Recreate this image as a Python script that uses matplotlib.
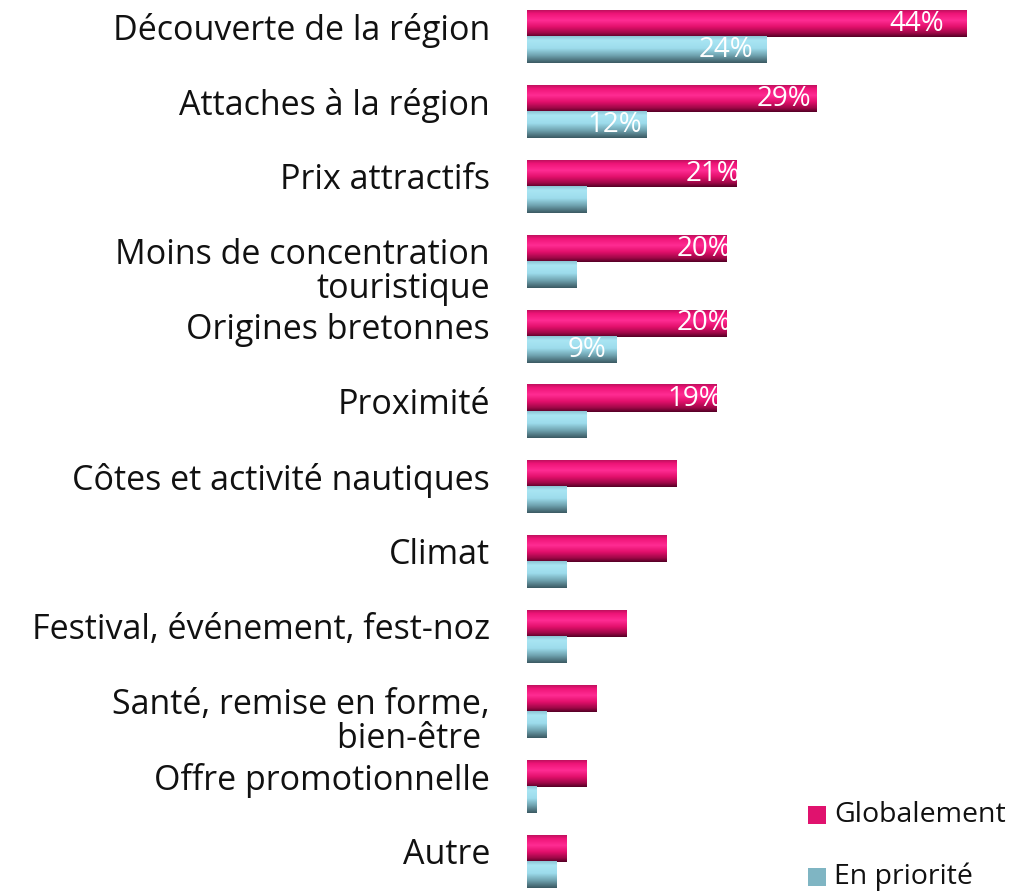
import numpy as np
import matplotlib
matplotlib.use("Agg")
import matplotlib.pyplot as plt
from matplotlib.colors import LinearSegmentedColormap
from matplotlib.patches import Rectangle

plt.rcParams['font.family'] = ['Open Sans', 'DejaVu Sans']

categories = ["Découverte de la région", "Attaches à la région", "Prix attractifs",
              "Moins de concentration\ntouristique", "Origines bretonnes", "Proximité",
              "Côtes et activité nautiques", "Climat", "Festival, événement, fest-noz",
              "Santé, remise en forme,\nbien-être ", "Offre promotionnelle", "Autre"]
globalement = [44, 29, 21, 20, 20, 19, 15, 14, 10, 7, 6, 4]
en_priorite = [24, 12, 6, 5, 9, 6, 4, 4, 4, 2, 1, 3]
# which values get a printed label
label_glob = [True, True, True, True, True, True, False, False, False, False, False, False]
label_prio = [True, True, False, False, True, False, False, False, False, False, False, False]
series = ["Globalement", "En priorité"]
legend_colors = ["#e0126e", "#7fb5c3"]

pink_cmap = LinearSegmentedColormap.from_list("pink", [
    (0.0, "#c0105e"), (0.12, "#ee1477"), (0.38, "#ff2c93"),
    (0.62, "#e3106c"), (0.85, "#a00848"), (1.0, "#560026")])
teal_cmap = LinearSegmentedColormap.from_list("teal", [
    (0.0, "#8cc4d4"), (0.15, "#a9e5f3"), (0.45, "#9ddcec"),
    (0.72, "#70a3b0"), (1.0, "#3b5a63")])
grad = np.linspace(0, 1, 64).reshape(-1, 1)

fig = plt.figure(figsize=(10.09, 8.91), dpi=100)
ax = fig.add_axes([527 / 1009, 0, 460 / 1009, 1])

h_g, h_p = 0.36, 0.35
for i, (g, p) in enumerate(zip(globalement, en_priorite)):
    ax.imshow(grad, cmap=pink_cmap, extent=(0, g, i, i - h_g), aspect='auto',
              interpolation='bilinear')
    ax.imshow(grad, cmap=teal_cmap, extent=(0, p, i + h_p, i), aspect='auto',
              interpolation='bilinear')
    if label_glob[i]:
        ax.text(0.885 * g, i - h_g / 2, f"{g}%", color="white", fontsize=20,
                ha="center", va="center")
    if label_prio[i]:
        ax.text(0.93 * p - 2.4, i + h_p / 2, f"{p}%", color="white", fontsize=20,
                ha="center", va="center")
    ax.text(-3.7, i - 0.32, categories[i], fontsize=24.5, ha="right", va="top",
            linespacing=1.0, color="#111111")

ax.set_xlim(0, 46)
ax.set_ylim((891 - 37) / 75, -37 / 75)
ax.axis("off")

# legend drawn by hand to sit exactly at the lower right
for k, (name, col) in enumerate(zip(series, legend_colors)):
    y0 = 1 - (806 + 62 * k + 18) / 891
    fig.patches.append(Rectangle((808 / 1009, y0), 18 / 1009, 18 / 891,
                                 transform=fig.transFigure, facecolor=col,
                                 edgecolor="none"))
    fig.text(834 / 1009, y0 + 9 / 891, name, fontsize=20.5, ha="left",
             va="center", color="#111111")

fig.savefig("out.png", dpi=100)
